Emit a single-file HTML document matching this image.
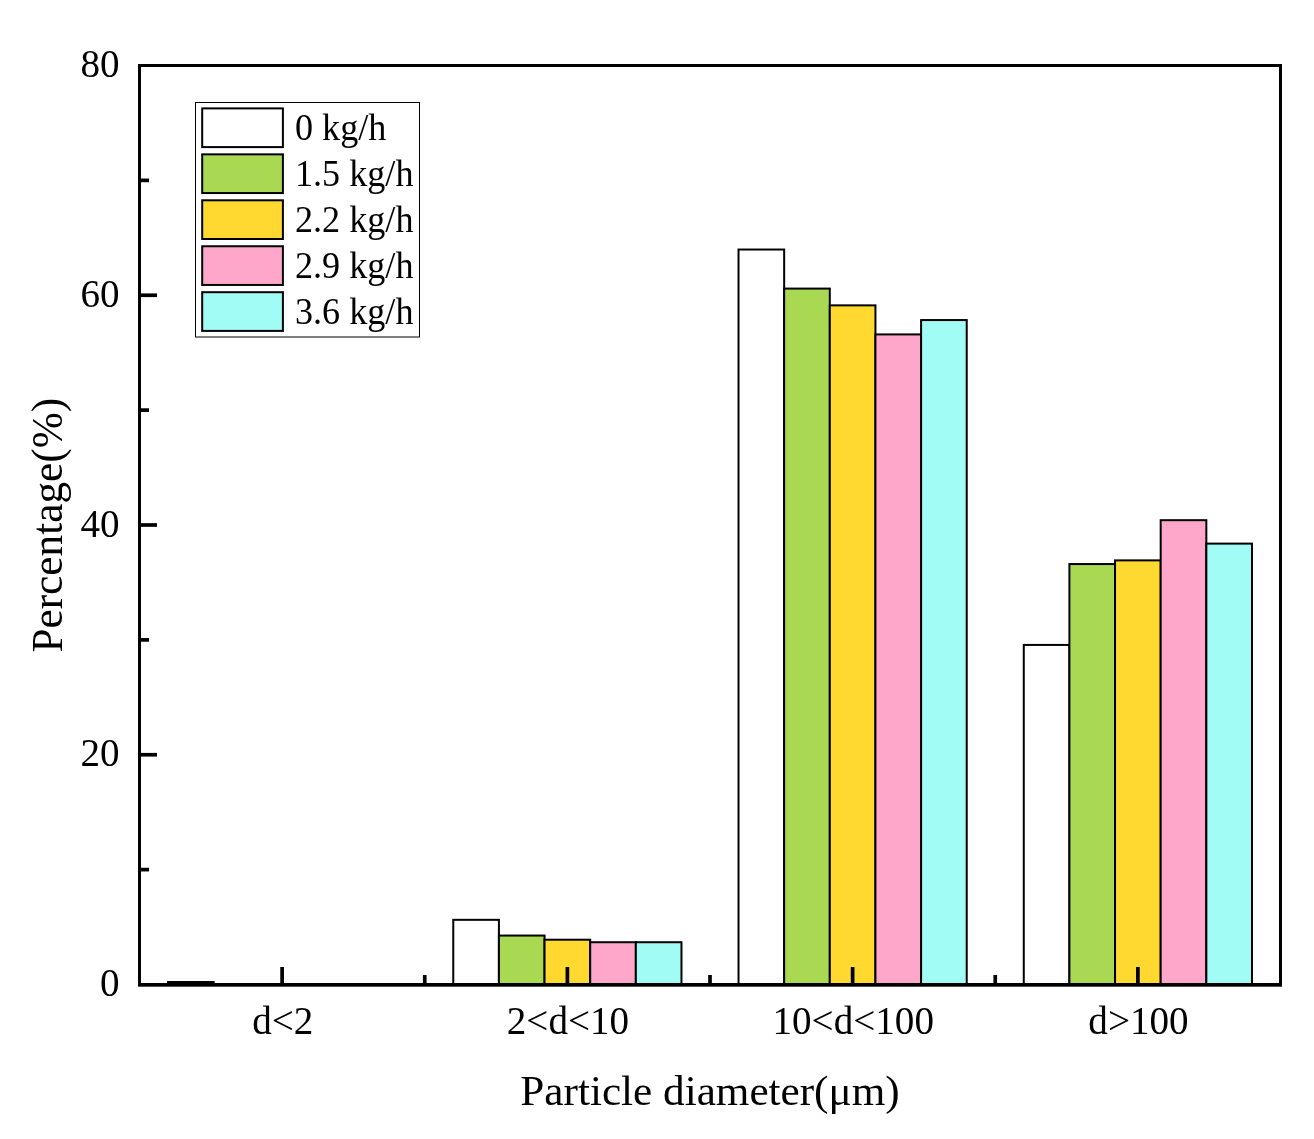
<!DOCTYPE html>
<html lang="en"><head><meta charset="utf-8"><title>Particle diameter distribution</title>
<style>html,body{margin:0;padding:0;background:#fff;}body{width:1314px;height:1139px;overflow:hidden;}svg{display:block;}text{font-family:"Liberation Serif","Times New Roman",serif;fill:#000;}</style></head><body>
<svg width="1314" height="1139" viewBox="0 0 1314 1139">
<rect x="0" y="0" width="1314" height="1139" fill="#fff"/>
<g stroke="#000" stroke-width="2" stroke-linejoin="miter">
<rect x="168.03" y="982.03" width="45.64" height="2.47" fill="#FFFFFF"/>
<rect x="453.27" y="919.83" width="45.64" height="64.67" fill="#FFFFFF"/>
<rect x="498.91" y="935.56" width="45.64" height="48.94" fill="#A9D853"/>
<rect x="544.55" y="939.70" width="45.64" height="44.80" fill="#FFD92F"/>
<rect x="590.19" y="942.23" width="45.64" height="42.27" fill="#FFA6CB"/>
<rect x="635.84" y="942.23" width="45.64" height="42.27" fill="#A1FCF5"/>
<rect x="738.52" y="249.53" width="45.64" height="734.97" fill="#FFFFFF"/>
<rect x="784.16" y="288.59" width="45.64" height="695.91" fill="#A9D853"/>
<rect x="829.80" y="305.36" width="45.64" height="679.14" fill="#FFD92F"/>
<rect x="875.44" y="334.42" width="45.64" height="650.08" fill="#FFA6CB"/>
<rect x="921.09" y="320.06" width="45.64" height="664.44" fill="#A1FCF5"/>
<rect x="1023.77" y="644.93" width="45.64" height="339.57" fill="#FFFFFF"/>
<rect x="1069.41" y="564.06" width="45.64" height="420.44" fill="#A9D853"/>
<rect x="1115.06" y="560.38" width="45.64" height="424.12" fill="#FFD92F"/>
<rect x="1160.69" y="520.18" width="45.64" height="464.32" fill="#FFA6CB"/>
<rect x="1206.34" y="543.61" width="45.64" height="440.89" fill="#A1FCF5"/>
</g>
<g stroke="#000" stroke-width="3.7" fill="none">
<line x1="139.50" y1="869.62" x2="149.00" y2="869.62"/>
<line x1="139.50" y1="754.75" x2="157.00" y2="754.75"/>
<line x1="139.50" y1="639.88" x2="149.00" y2="639.88"/>
<line x1="139.50" y1="525.00" x2="157.00" y2="525.00"/>
<line x1="139.50" y1="410.12" x2="149.00" y2="410.12"/>
<line x1="139.50" y1="295.25" x2="157.00" y2="295.25"/>
<line x1="139.50" y1="180.38" x2="149.00" y2="180.38"/>
<line x1="282.12" y1="984.50" x2="282.12" y2="967.00"/>
<line x1="567.38" y1="984.50" x2="567.38" y2="967.00"/>
<line x1="852.62" y1="984.50" x2="852.62" y2="967.00"/>
<line x1="1137.88" y1="984.50" x2="1137.88" y2="967.00"/>
<line x1="424.75" y1="984.50" x2="424.75" y2="975.00"/>
<line x1="710.00" y1="984.50" x2="710.00" y2="975.00"/>
<line x1="995.25" y1="984.50" x2="995.25" y2="975.00"/>
</g>
<g stroke="#000" stroke-width="3" fill="none">
<rect x="139.50" y="65.50" width="1141.00" height="919.00"/>
<line x1="138.00" y1="986.20" x2="1282.00" y2="986.20" stroke-width="1"/>
</g>
<g font-size="40" text-anchor="end">
<text transform="translate(119.6,996.10) scale(0.978,1.02)">0</text>
<text transform="translate(119.6,766.35) scale(0.978,1.02)">20</text>
<text transform="translate(119.6,536.60) scale(0.978,1.02)">40</text>
<text transform="translate(119.6,306.85) scale(0.978,1.02)">60</text>
<text transform="translate(119.6,77.10) scale(0.978,1.02)">80</text>
</g>
<g font-size="40" text-anchor="middle">
<text transform="translate(282.73,1033.6) scale(0.978,1.02)">d&lt;2</text>
<text transform="translate(567.98,1033.6) scale(0.978,1.02)">2&lt;d&lt;10</text>
<text transform="translate(853.23,1033.6) scale(0.978,1.02)">10&lt;d&lt;100</text>
<text transform="translate(1138.47,1033.6) scale(0.978,1.02)">d&gt;100</text>
</g>
<text x="710" y="1104.7" font-size="43.2" text-anchor="middle">Particle diameter(μm)</text>
<text transform="translate(61.9,525.2) rotate(-90)" font-size="43.3" text-anchor="middle">Percentage(%)</text>
<rect x="195.5" y="102.5" width="224" height="234.5" fill="#fff" stroke="#000" stroke-width="1"/>
<g stroke="#000" stroke-width="2">
<rect x="202.2" y="108.40" width="80.7" height="38.7" fill="#FFFFFF"/>
<rect x="202.2" y="154.35" width="80.7" height="38.7" fill="#A9D853"/>
<rect x="202.2" y="200.30" width="80.7" height="38.7" fill="#FFD92F"/>
<rect x="202.2" y="246.25" width="80.7" height="38.7" fill="#FFA6CB"/>
<rect x="202.2" y="292.20" width="80.7" height="38.7" fill="#A1FCF5"/>
</g>
<g font-size="37">
<text transform="translate(295,140.15) scale(0.977,1)">0 kg/h</text>
<text transform="translate(295,186.10) scale(0.977,1)">1.5 kg/h</text>
<text transform="translate(295,232.05) scale(0.977,1)">2.2 kg/h</text>
<text transform="translate(295,278.00) scale(0.977,1)">2.9 kg/h</text>
<text transform="translate(295,323.95) scale(0.977,1)">3.6 kg/h</text>
</g>
</svg></body></html>
